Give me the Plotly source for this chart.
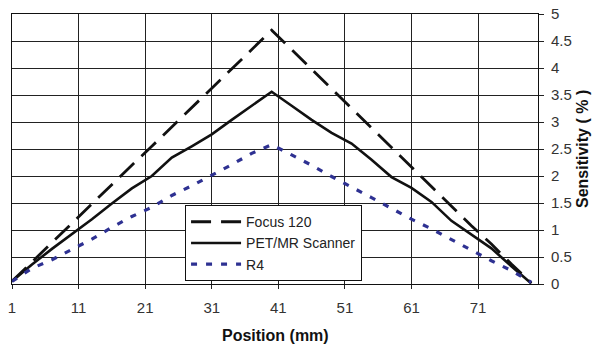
import plotly.graph_objects as go

positions = [1, 4, 7, 10, 13, 16, 19, 22, 25, 28, 31, 34, 37, 40,
             43, 46, 49, 52, 55, 58, 61, 64, 67, 70, 73, 76, 79]
focus_120 = [0.05, 0.41, 0.77, 1.12, 1.48, 1.84, 2.20, 2.55, 2.91, 3.27, 3.62, 3.98, 4.34, 4.70,
             4.34, 3.98, 3.62, 3.25, 2.89, 2.53, 2.17, 1.81, 1.45, 1.08, 0.74, 0.37, 0.02]
pet_mr = [0.05, 0.36, 0.65, 0.92, 1.20, 1.49, 1.77, 2.00, 2.34, 2.55, 2.77, 3.04, 3.30, 3.56,
          3.30, 3.04, 2.80, 2.60, 2.30, 1.98, 1.78, 1.52, 1.17, 0.91, 0.66, 0.33, 0.01]
r4 = [0.05, 0.29, 0.45, 0.64, 0.83, 1.05, 1.25, 1.42, 1.64, 1.82, 2.01, 2.21, 2.42, 2.58,
      2.39, 2.20, 1.99, 1.80, 1.60, 1.40, 1.20, 1.02, 0.82, 0.62, 0.43, 0.25, 0.03]

x_ticks = [1, 11, 21, 31, 41, 51, 61, 71]
y_ticks = [0, 0.5, 1, 1.5, 2, 2.5, 3, 3.5, 4, 4.5, 5]
y_tick_text = ["0", "0.5", "1", "1.5", "2", "2.5", "3", "3.5", "4", "4.5", "5"]
x_title = "Position (mm)"
y_title = "Sensitivity ( % )"

font_family = "Liberation Sans, Arial, sans-serif"

fig = go.Figure()
fig.add_trace(go.Scatter(x=positions, y=focus_120, mode="lines", name="Focus 120",
                         line=dict(color="#111111", width=2.8, dash="20px,10px")))
fig.add_trace(go.Scatter(x=positions, y=pet_mr, mode="lines", name="PET/MR Scanner",
                         line=dict(color="#111111", width=2.6)))
fig.add_trace(go.Scatter(x=positions, y=r4, mode="lines", name="R4",
                         line=dict(color="#2E3192", width=3.2, dash="6px,9px")))

fig.update_layout(
    width=600, height=349,
    margin=dict(l=12, r=62, t=14, b=65),
    paper_bgcolor="white", plot_bgcolor="white",
    font=dict(family=font_family, size=15, color="#222222"),
    legend=dict(x=0.329, y=0.292, xanchor="left", yanchor="top",
                bgcolor="white", bordercolor="#111111", borderwidth=1,
                font=dict(size=14, color="#222222"), itemwidth=50,
                tracegroupgap=0),
    showlegend=True,
    annotations=[
        dict(text="<b>" + x_title + "</b>", xref="paper", yref="paper",
             x=0.5, y=-0.19, xanchor="center", yanchor="middle", showarrow=False,
             font=dict(size=16, color="#111111")),
        dict(text="<b>" + y_title + "</b>", xref="paper", yref="paper",
             x=1.0837, y=0.5, xanchor="center", yanchor="middle", showarrow=False,
             textangle=-90, font=dict(size=16, color="#111111")),
    ],
)
fig.update_xaxes(
    range=[1, 80], tickmode="array", tickvals=x_ticks, automargin=False,
    showgrid=True, gridcolor="#222222", gridwidth=1,
    showline=True, linecolor="#111111", linewidth=1, mirror=True,
    ticks="outside", ticklen=4, tickcolor="#222222",
    zeroline=False, ticklabeloverflow="allow", ticklabelstandoff=6,
    tickfont=dict(size=15, color="#333333"),
)
fig.update_yaxes(
    range=[0, 5], side="right", tickmode="array", tickvals=y_ticks, ticktext=y_tick_text,
    automargin=False,
    showgrid=True, gridcolor="#222222", gridwidth=1,
    showline=True, linecolor="#111111", linewidth=1, mirror=True,
    ticks="outside", ticklen=5, tickcolor="#222222",
    zeroline=False, ticklabeloverflow="allow", ticklabelstandoff=4,
    tickfont=dict(size=15, color="#333333"),
)

# remove the browser's default 8px body margin so the 600x349 figure fills the window
fig.write_html("out.html", config={"displayModeBar": False},
               post_script="document.body.style.margin='0';")
